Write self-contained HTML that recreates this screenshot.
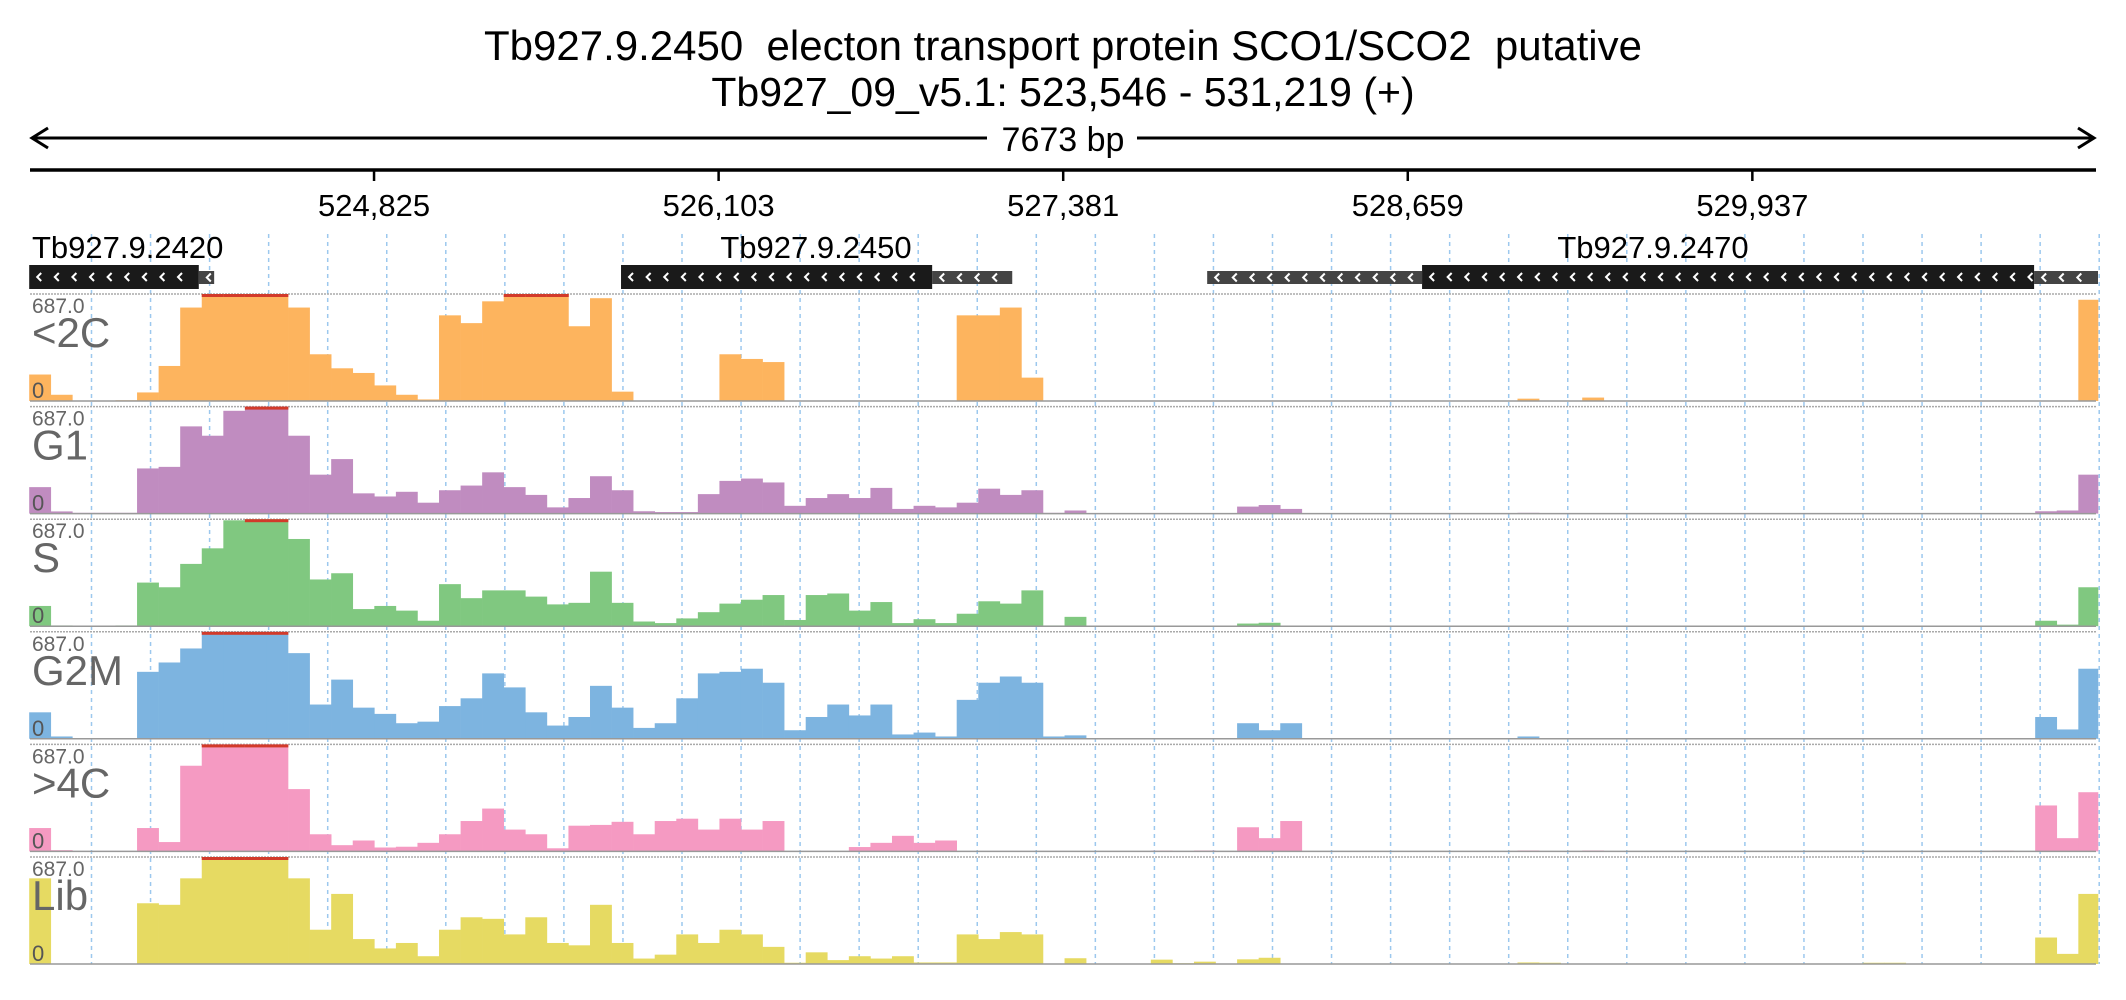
<!DOCTYPE html>
<html><head><meta charset="utf-8">
<style>
html,body{margin:0;padding:0;background:#fff;}
svg{display:block;font-family:"Liberation Sans",sans-serif;}
text{white-space:pre;}
</style></head>
<body>
<svg id="chart" width="2126" height="1000" viewBox="0 0 2126 1000" xmlns="http://www.w3.org/2000/svg" xml:space="preserve">
  <rect width="2126" height="1000" fill="#fff"/>
  <text x="1063" y="60" font-size="42" text-anchor="middle" fill="#000">Tb927.9.2450  electon transport protein SCO1/SCO2  putative</text>
  <text x="1063" y="106" font-size="41" text-anchor="middle" fill="#000">Tb927_09_v5.1: 523,546 - 531,219 (+)</text>
  <g stroke="#000" stroke-width="3" fill="none">
    <line x1="32" y1="138" x2="2094" y2="138"/>
    <polyline points="48,128 32,138 48,148"/>
    <polyline points="2078,128 2094,138 2078,148"/>
  </g>
  <rect x="987" y="120" width="150" height="36" fill="#fff"/>
  <text x="1063" y="151" font-size="34" text-anchor="middle">7673 bp</text>
  <line x1="30" y1="170" x2="2096" y2="170" stroke="#000" stroke-width="3.5"/>
  <g id="axis"></g>
  <g id="grid"></g>
  <g id="genes"></g>
  <g id="tracks"></g>
</svg>
<script>
const regionStart = 523546;
const regionEnd = 531219;
const binSize = 80;
const tickValues = [524825, 526103, 527381, 528659, 529937];
const tickLabels = ["524,825", "526,103", "527,381", "528,659", "529,937"];
const trackNames = ["<2C", "G1", "S", "G2M", ">4C", "Lib"];
const trackColors = ["#fdb45e", "#c08cc0", "#80c880", "#7db4e0", "#f59ac2", "#e6da62"];
const maxValue = 687;
const geneNames = ["Tb927.9.2420", "Tb927.9.2450", "Tb927.9.2470"];
const geneCdsStart = [523546, 525741, 528712];
const geneCdsEnd = [524175, 526895, 530982];
const geneUtrStart = [524175, 526895, 527915];
const geneUtrEnd = [524232, 527192, 528712];
const geneUtr2Start = [524232, 527192, 530982];
const geneUtr2End = [524232, 527192, 531219];

const cov2C = [170,40,0,0,5,55,225,600,687,687,687,687,600,300,210,180,100,40,10,550,500,640,687,687,687,480,660,60,0,0,0,0,300,270,250,0,0,0,0,0,0,0,0,550,550,600,150,0,
0,0,0,0,0,0,0,0,0,0,0,0,0,0,0,0,0,0,0,0,0,15,0,0,22,0,0,0,0,0,0,0,0,0,0,0,0,0,0,0,0,0,0,0,0,0,0,650];
const covG1 = [170,14,5,5,5,290,300,560,500,660,687,687,500,250,350,130,110,140,70,150,180,265,170,120,40,100,240,150,15,10,10,125,210,225,200,50,100,125,100,165,30,50,40,70,160,120,150,5,
20,2,2,2,2,2,2,2,45,55,30,2,2,2,2,2,2,2,2,2,2,5,2,2,2,2,2,2,2,2,2,2,2,2,2,2,2,2,2,2,2,2,2,2,2,15,20,250];
const covS = [130,5,3,3,5,280,250,400,500,680,687,687,560,300,340,110,130,100,35,270,180,230,230,190,140,150,350,150,30,20,50,90,145,170,200,40,200,210,100,155,20,45,20,80,160,145,230,5,
60,0,0,0,0,0,0,0,17,22,0,0,0,0,0,0,0,0,0,0,0,4,0,0,0,0,0,0,0,0,0,0,0,0,0,0,0,0,0,0,0,0,0,0,0,35,10,250];
const covG2M = [170,15,3,3,3,430,490,580,687,687,687,687,550,220,380,200,160,100,110,210,260,420,330,170,85,140,340,200,70,100,260,420,430,450,360,55,140,220,150,220,28,40,15,250,360,400,360,15,
22,0,0,0,5,0,5,0,100,55,100,0,0,0,0,0,0,0,0,0,0,15,0,0,0,0,0,0,0,0,0,0,0,0,0,0,0,0,0,0,0,0,0,0,0,140,60,450];
const cov4C = [150,8,3,3,3,150,60,550,687,687,687,687,400,110,40,70,25,30,55,110,195,275,140,110,20,165,170,190,110,195,210,140,210,140,195,3,3,3,28,55,100,55,70,3,3,3,3,3,
0,0,0,0,5,0,6,0,155,85,195,0,0,0,0,0,0,0,0,0,0,6,0,0,6,0,0,0,0,0,0,0,0,0,0,0,0,0,0,0,0,0,0,5,0,295,85,380];
const covLib = [550,3,3,3,3,390,380,550,687,687,687,687,550,220,450,160,100,135,50,220,300,290,190,300,135,120,380,135,35,60,190,135,220,190,110,8,75,25,50,35,50,10,10,190,160,205,190,3,
37,0,0,0,28,5,15,0,30,40,0,0,0,0,0,0,0,0,0,0,0,10,8,0,0,0,0,0,0,0,0,0,0,0,0,0,0,8,8,0,0,0,0,0,0,170,65,450];
const trackData = [cov2C, covG1, covS, covG2M, cov4C, covLib];

const NS = "http://www.w3.org/2000/svg";
const plotLeft = 29.2, plotRight = 2098;
function xScale(bp){ return plotLeft + (bp - regionStart) / (regionEnd - regionStart) * (plotRight - plotLeft); }
function mk(tag, attrs, parent){ const e = document.createElementNS(NS, tag); for (const k in attrs) e.setAttribute(k, attrs[k]); parent.appendChild(e); return e; }

const axis = document.getElementById('axis');
tickValues.forEach((t, i) => {
  const x = xScale(t);
  const l = mk('line', {x1:x, y1:170, x2:x, y2:181, stroke:'#000', 'stroke-width':2.5}, axis);
  
  
  const tx = mk('text', {x:x, y:216, 'font-size':31, 'text-anchor':'middle'}, axis);
  
  
  tx.textContent = tickLabels[i];
});

const grid = document.getElementById('grid');
for (let j = 0; j < 35; j++) {
  const x = 91.5 + 59.05 * j;
  const g = mk('line', {x1:x, y1:234, x2:x, y2:964, stroke:'#9cc8ee', 'stroke-width':1.5, 'stroke-dasharray':'4,4'}, grid);
  
  
}

const genes = document.getElementById('genes');
function chevrons(x1, x2, yc, parent){
  for (let x = x1 + 8; x < x2 - 4; x += 17.6) {
    mk('polyline', {points:(x+4)+','+(yc-4)+' '+x+','+yc+' '+(x+4)+','+(yc+4), fill:'none', stroke:'#fff', 'stroke-width':2}, parent);
  }
}
geneNames.forEach((name, i) => {
  const g = mk('g', {}, genes);
  
  
  const pieces = [[geneUtrStart[i], geneUtrEnd[i]], [geneUtr2Start[i], geneUtr2End[i]]];
  pieces.forEach(p => {
    if (p[1] > p[0]) {
      const a = xScale(p[0]), b = xScale(p[1]);
      mk('rect', {x:a, y:271, width:b-a, height:13, fill:'#444'}, g);
      chevrons(a, b, 277.5, g);
    }
  });
  const a = xScale(geneCdsStart[i]), b = xScale(geneCdsEnd[i]);
  mk('rect', {x:a, y:265, width:b-a, height:24, fill:'#1a1a1a'}, g);
  chevrons(a, b, 277, g);
  const lx = i === 0 ? 32 : (i === 1 ? 816 : 1653);
  const t = mk('text', {x:lx, y:258, 'font-size':31, 'text-anchor': i === 0 ? 'start' : 'middle'}, g);
  t.textContent = name;
});

const tracks = document.getElementById('tracks');
const trackH = 107;
trackNames.forEach((name, i) => {
  const top = 294 + 112.6 * i, base = top + trackH;
  const g = mk('g', {}, tracks);
  
  
  mk('line', {x1:30, y1:top, x2:2096, y2:top, stroke:'#aaa', 'stroke-width':1.5, 'stroke-dasharray':'2,1'}, g);
  const vals = trackData[i];
  vals.forEach((v, k) => {
    const x0 = xScale(regionStart + k * binSize);
    const x1 = Math.min(xScale(regionStart + (k + 1) * binSize), plotRight);
    const h = Math.min(v, maxValue) / maxValue * trackH;
    if (h <= 0) return;
    const r = mk('rect', {x:x0, y:base - h, width:x1 - x0 + 0.3, height:h, fill:trackColors[i]}, g);
    
    
    if (v >= maxValue) mk('rect', {x:x0, y:top, width:x1 - x0 + 0.3, height:3, fill:'#d23a2a'}, g);
  });
  mk('line', {x1:30, y1:base, x2:2096, y2:base, stroke:'#999', 'stroke-width':1.5}, g);
  const mx = mk('text', {x:32, y:top + 19, 'font-size':21, fill:'#666'}, g);
  
  
  mx.textContent = '687.0';
  const nm = mk('text', {x:32, y:top + 53, 'font-size':42, fill:'#666'}, g);
  
  
  nm.textContent = name;
  const z = mk('text', {x:32, y:base - 3, 'font-size':22, fill:'#555'}, g);
  
  
  z.textContent = '0';
});
</script>
</body></html>
